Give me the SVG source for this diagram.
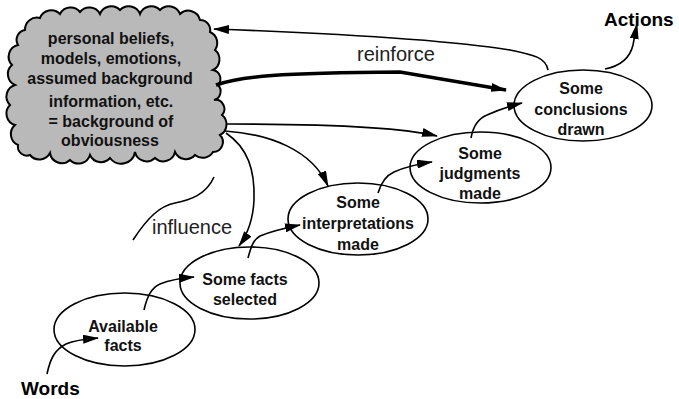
<svg xmlns="http://www.w3.org/2000/svg" width="679" height="399" viewBox="0 0 679 399">
<style>
.node ellipse{fill:#fff;stroke:#000;stroke-width:1.6}
.lbl{font-family:"Liberation Sans",Arial,sans-serif;font-weight:bold;font-size:16px;fill:#111;text-anchor:middle}
.big{font-family:"Liberation Sans",Arial,sans-serif;font-weight:bold;font-size:19px;fill:#000}
.plain{font-family:"Liberation Sans",Arial,sans-serif;font-size:20px;fill:#222}
.conn path{fill:none;stroke:#000;stroke-width:1.6}
.conn path.thick{stroke-width:3.5}
</style>
<defs>
<marker id="ah" viewBox="0 0 16 9" refX="15" refY="4.5" markerWidth="16" markerHeight="9" markerUnits="userSpaceOnUse" orient="auto">
<path d="M0,0 L16,4.5 L0,9 z" fill="#000"/>
</marker>
</defs>
<rect width="679" height="399" fill="#fff"/>

<g id="cloud">
<path d="M25,30 A12,12 0 0 1 40,18 A12,12 0 0 1 60,14 A12,12 0 0 1 80,12 A12,12 0 0 1 100,14 A12,12 0 0 1 120,10 A12,12 0 0 1 140,14 A12,12 0 0 1 160,10 A12,12 0 0 1 180,14 A12,12 0 0 1 200,20 A10,10 0 0 1 210,32 A12,12 0 0 1 215,50 A12,12 0 0 1 213,70 A9,9 0 0 1 218,85 A9,9 0 0 1 214,100 A9,9 0 0 1 222,115 A12,12 0 0 1 220,135 A10,10 0 0 1 213,152 A12,12 0 0 1 195,155 A12,12 0 0 1 175,152 A12,12 0 0 1 155,158 A12,12 0 0 1 135,152 A14,14 0 0 1 110,158 A12,12 0 0 1 90,155 A12,12 0 0 1 70,160 A12,12 0 0 1 50,153 A12,12 0 0 1 30,155 A9,9 0 0 1 18,145 A12,12 0 0 1 15,125 A12,12 0 0 1 10,105 A12,12 0 0 1 15,85 A12,12 0 0 1 12,65 A12,12 0 0 1 18,45 A10,10 0 0 1 25,30 z" fill="#b9b9b9" stroke="#000" stroke-width="2"/>
<text class="lbl" x="111" y="44">personal beliefs,</text>
<text class="lbl" x="111" y="64">models, emotions,</text>
<text class="lbl" x="110" y="84">assumed background</text>
<text class="lbl" x="111" y="107">information, etc.</text>
<text class="lbl" x="111" y="127">= background of</text>
<text class="lbl" x="110" y="146">obviousness</text>
</g>

<g id="available-facts" class="node">
<ellipse cx="124.5" cy="329.5" rx="70.5" ry="36.5"/>
<text class="lbl" x="123" y="332">Available</text>
<text class="lbl" x="123" y="351">facts</text>
</g>

<g id="facts-selected" class="node">
<ellipse cx="249.5" cy="283" rx="69.5" ry="36"/>
<text class="lbl" x="245" y="285">Some facts</text>
<text class="lbl" x="245" y="305">selected</text>
</g>

<g id="interpretations" class="node">
<ellipse cx="358" cy="219" rx="70" ry="36"/>
<text class="lbl" x="358" y="208">Some</text>
<text class="lbl" x="358" y="229">interpretations</text>
<text class="lbl" x="358" y="250">made</text>
</g>

<g id="judgments" class="node">
<ellipse cx="480.5" cy="167.5" rx="70.5" ry="35.5"/>
<text class="lbl" x="480" y="159">Some</text>
<text class="lbl" x="480" y="179">judgments</text>
<text class="lbl" x="480" y="199">made</text>
</g>

<g id="conclusions" class="node">
<ellipse cx="583" cy="105.5" rx="69" ry="35.5"/>
<text class="lbl" x="581" y="94">Some</text>
<text class="lbl" x="581" y="115">conclusions</text>
<text class="lbl" x="581" y="135">drawn</text>
</g>

<g id="words">
<text class="big" x="21" y="395">Words</text>
</g>

<g id="actions">
<text class="big" x="604" y="26">Actions</text>
</g>

<g id="connectors" class="conn">
<path d="M548,70 C546,58 535,55 510,50 C460,42 350,34 214,29" marker-end="url(#ah)"/>
<path class="thick" d="M216,85 C240,76 280,73 400,72 L506,90" marker-end="url(#ah)"/>
<path d="M227,124 C320,124 400,127 437,136" marker-end="url(#ah)"/>
<path d="M225,131 C270,134 312,150 328,186" marker-end="url(#ah)"/>
<path d="M226,133 C248,148 255,170 254,200 C253,222 247,235 239,246" marker-end="url(#ah)"/>
<path d="M214,177 C206,195 190,200 175,203 C160,206 148,217 133,240"/>
<path d="M47,374 C50,360 54,350 66,344 C75,340 85,339 98,338" marker-end="url(#ah)"/>
<path d="M144,310 C147,297 151,288 160,284 C170,280 182,278 194,277" marker-end="url(#ah)"/>
<path d="M248,258 C251,247 253,240 260,236 C272,231 285,228 300,225" marker-end="url(#ah)"/>
<path d="M378,193 C381,183 385,176 394,172 C405,167 418,164 432,162" marker-end="url(#ah)"/>
<path d="M471,138 C473,127 477,119 487,115 C498,110 510,106 522,103" marker-end="url(#ah)"/>
<path d="M605,69 C620,66 630,58 633,45 L637,24" marker-end="url(#ah)"/>
</g>

<g id="labels">
<text class="plain" x="357" y="61">reinforce</text>
<text class="plain" x="152" y="234">influence</text>
</g>
</svg>
